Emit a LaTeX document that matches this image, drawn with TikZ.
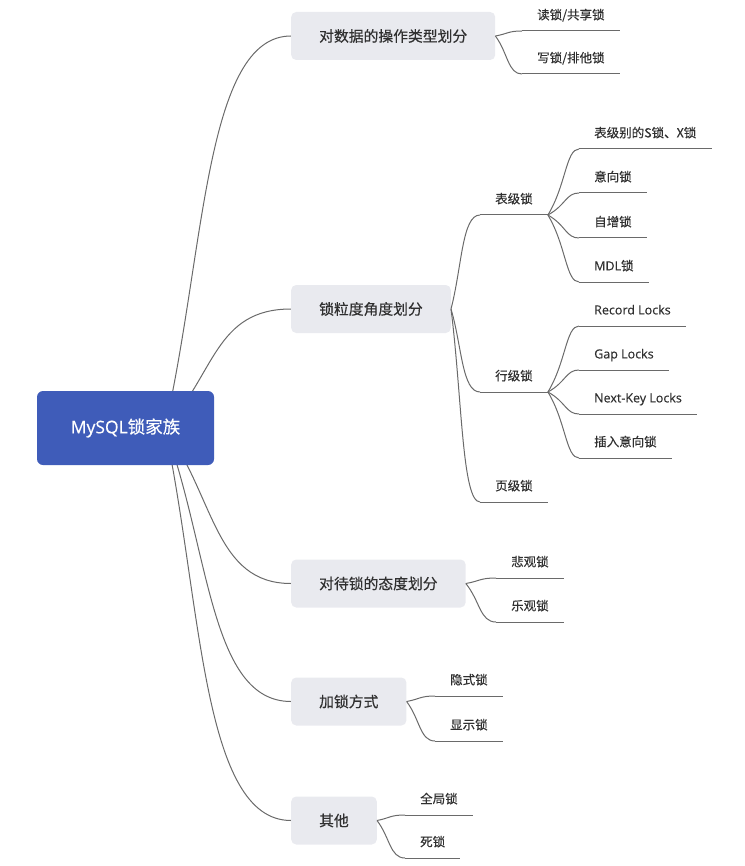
\documentclass[tikz,border=0pt]{standalone}
\usepackage{fontspec}
\setmainfont{Open Sans}
\newfontfamily\cjk[FakeBold=0.35]{Noto Sans CJK SC}
\newfontfamily\latinf[FakeBold=0.35]{Open Sans}
\usetikzlibrary{calc}
\definecolor{rootblue}{HTML}{3F5CB9}
\definecolor{boxgrey}{HTML}{E9EAEF}
\definecolor{linegrey}{HTML}{6A6A6A}
\definecolor{txtgrey}{HTML}{303030}
\pgfdeclarelayer{bglines}
\pgfsetlayers{bglines,main}
\newcommand\mmlink[3]{\draw[link] let \p1=(#1), \p2=(#2) in (\p1) .. controls ({#3pt},{\y1+0.45*(\y2-\y1)}) and ({#3pt},\y2) .. (\p2);}
\newcommand\mmunder[1]{\draw[link] (#1.south west) -- (#1.south east);}
\begin{document}
\begin{tikzpicture}[x=1pt,y=-1pt,
  link/.style={draw=linegrey, line width=1pt},
  rootbox/.style={fill=rootblue, rounded corners=6pt, text=white, minimum width=177pt, minimum height=74pt, inner sep=0pt, font=\latinf\fontsize{17.5}{20}\selectfont},
  topic/.style={fill=boxgrey, rounded corners=5pt, text=txtgrey, inner xsep=28pt, inner ysep=0pt, minimum height=48pt, anchor=west, font=\cjk\fontsize{14.8}{17}\selectfont},
  leaf/.style={anchor=south west, inner xsep=15pt, inner ysep=0pt, text height=10pt, text depth=11.4pt, text=txtgrey, font=\cjk\fontsize{12.5}{15}\selectfont}]
\useasboundingbox (0,0) rectangle (744,866);

% root and topics
\node[rootbox] (root) at (125.5,428) {MySQL{\cjk 锁家族}};
\coordinate (rs) at (165,428);
\node[topic] (t1) at (291,36) {对数据的操作类型划分};
\node[topic] (t2) at (291,309) {锁粒度角度划分};
\node[topic] (t3) at (291,583.5) {对待锁的态度划分};
\node[topic] (t4) at (291,701.5) {加锁方式};
\node[topic] (t5) at (291,820.5) {其他};

% leaves
\node[leaf] (l11) at (522,31) {读锁/共享锁};
\node[leaf] (l12) at (522,74) {写锁/排他锁};
\node[leaf] (l21) at (480,215) {表级锁};
\node[leaf] (l22) at (480,392) {行级锁};
\node[leaf] (l23) at (480,502) {页级锁};
\node[leaf] (l211) at (579,149) {表级别的S锁、X锁};
\node[leaf] (l212) at (579,193) {意向锁};
\node[leaf] (l213) at (579,238) {自增锁};
\node[leaf] (l214) at (579,282) {{\latinf MDL}锁};
\node[leaf] (l221) at (579,326) {\latinf Record Locks};
\node[leaf] (l222) at (579,370) {\latinf Gap Locks};
\node[leaf] (l223) at (579,414) {\latinf Next-Key Locks};
\node[leaf] (l224) at (579,458) {插入意向锁};
\node[leaf] (l31) at (496,578) {悲观锁};
\node[leaf] (l32) at (496,622) {乐观锁};
\node[leaf] (l41) at (435,696) {隐式锁};
\node[leaf] (l42) at (435,741) {显示锁};
\node[leaf] (l51) at (405,815) {全局锁};
\node[leaf] (l52) at (405,858) {死锁};

\begin{pgfonlayer}{bglines}
  \mmlink{rs}{t1.west}{205}
  \mmlink{rs}{t2.west}{215}
  \mmlink{rs}{t3.west}{215}
  \mmlink{rs}{t4.west}{210}
  \mmlink{rs}{t5.west}{202}
\end{pgfonlayer}

\mmlink{t1.east}{l11.south west}{508}
\mmlink{t1.east}{l12.south west}{508}
\mmlink{t2.east}{l21.south west}{462}
\mmlink{t2.east}{l22.south west}{462}
\mmlink{t2.east}{l23.south west}{462}
\mmlink{l21.south east}{l211.south west}{566}
\mmlink{l21.south east}{l212.south west}{566}
\mmlink{l21.south east}{l213.south west}{566}
\mmlink{l21.south east}{l214.south west}{566}
\mmlink{l22.south east}{l221.south west}{566}
\mmlink{l22.south east}{l222.south west}{566}
\mmlink{l22.south east}{l223.south west}{566}
\mmlink{l22.south east}{l224.south west}{566}
\mmlink{t3.east}{l31.south west}{480}
\mmlink{t3.east}{l32.south west}{480}
\mmlink{t4.east}{l41.south west}{420}
\mmlink{t4.east}{l42.south west}{420}
\mmlink{t5.east}{l51.south west}{390}
\mmlink{t5.east}{l52.south west}{390}

\mmunder{l11}\mmunder{l12}
\mmunder{l21}\mmunder{l22}\mmunder{l23}
\mmunder{l211}\mmunder{l212}\mmunder{l213}\mmunder{l214}
\mmunder{l221}\mmunder{l222}\mmunder{l223}\mmunder{l224}
\mmunder{l31}\mmunder{l32}
\mmunder{l41}\mmunder{l42}
\mmunder{l51}\mmunder{l52}
\end{tikzpicture}
\end{document}
